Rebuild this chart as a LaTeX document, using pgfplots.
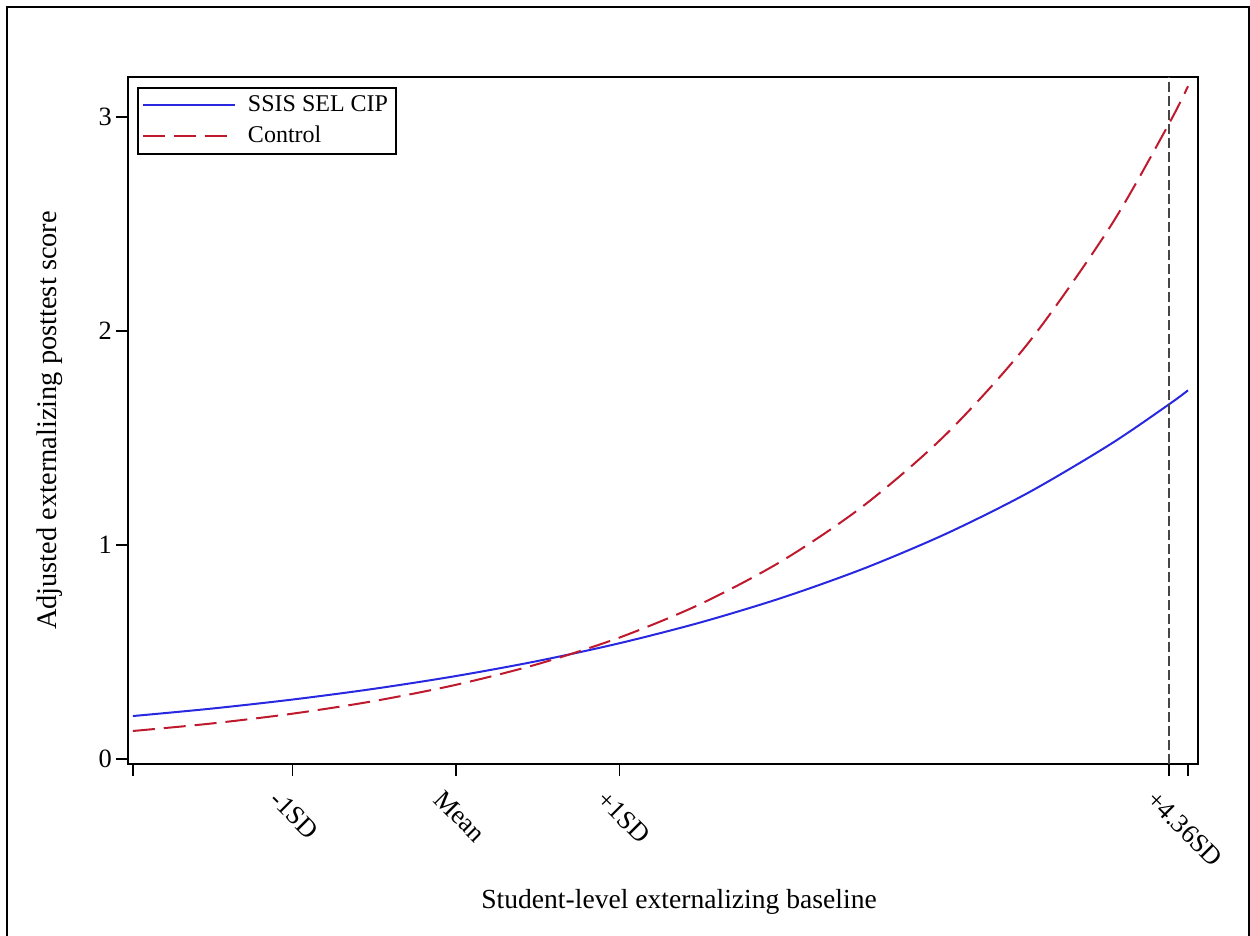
\documentclass[border=0pt]{standalone}
\usepackage{pgfplots}
\pgfplotsset{compat=1.18}
\usepackage{fontspec}
\setmainfont{Liberation Serif}
\definecolor{sasblue}{RGB}{40,40,225}
\definecolor{sasred}{RGB}{190,25,45}
\definecolor{refgrey}{RGB}{70,70,70}
\begin{document}
\begin{tikzpicture}
\useasboundingbox (0pt,0pt) rectangle (625pt,468pt);
\draw[line width=0.6pt] (3.5pt,-2pt) -- (3.5pt,464.5pt) -- (624.5pt,464.5pt) -- (624.5pt,-2pt);
\begin{axis}[
  at={(64pt,86pt)}, anchor=south west,
  scale only axis, width=535pt, height=343.5pt,
  xmin=-2.006, xmax=4.538, ymin=-0.023, ymax=3.187,
  font=\fontsize{13.2}{15}\selectfont,
  /pgf/number format/assume math mode=true,
  axis line style={line width=0.9pt},
  tick style={black, line width=0.9pt},
  tick align=outside, major tick length=6pt,
  xtick pos=bottom, ytick pos=left,
  ytick={0,1,2,3},
  yticklabel style={xshift=1.5pt},
  xtick={-1.976,-1,0,1,4.36,4.477},
  xticklabels={,-1SD,Mean,+1SD,+4.36SD,},
  xticklabel style={rotate=-45, anchor=north west, xshift=-3pt, yshift=-5pt},
  xlabel={Student-level externalizing baseline},
  ylabel={Adjusted externalizing posttest score},
  xlabel style={at={(axis description cs:0.515,-0.2009)}, anchor=center, font=\fontsize{13.8}{16}\selectfont},
  ylabel style={at={(axis description cs:-0.073,0.5)}, anchor=center, font=\fontsize{14.2}{16}\selectfont},
  legend style={at={(axis description cs:0.0084,0.9854)}, anchor=north west,
    draw=black, line width=1pt, font=\fontsize{12}{14}\selectfont,
    row sep=1.5pt, inner sep=2pt, cells={anchor=west},
    /tikz/every odd column/.style={}, },
  legend image code/.code={\draw[#1] (0pt,0pt) -- (46pt,0pt);},
  legend cell align=left,
  every legend entry/.append style={xshift=0pt},
  legend image post style={},
  clip=true,
]
\addplot[sasblue, line width=1pt, smooth] coordinates {
(-1.976,0.201) (-1.5,0.2354) (-1,0.2781) (-0.5,0.3285) (0,0.388) (0.5,0.4583)
(1,0.5413) (1.5,0.6394) (2,0.7552) (2.5,0.8920) (3,1.0537) (3.5,1.2445)
(4,1.4700) (4.36,1.657) (4.477,1.723)};
\addlegendentry{\hspace{4pt}SSIS SEL CIP}
\addplot[sasred, line width=1pt, smooth, dash pattern=on 11pt off 4.5pt] coordinates {
(-1.976,0.1312) (-1.5,0.1658) (-1,0.2121) (-0.5,0.2713) (0,0.347) (0.5,0.4438)
(1,0.5677) (1.5,0.7262) (2,0.9288) (2.5,1.1881) (3,1.5197) (3.5,1.9439)
(4,2.4863) (4.36,2.968) (4.477,3.144)};
\addlegendentry{\hspace{4pt}Control}
\addplot[refgrey, line width=1pt, dash pattern=on 5pt off 2pt, forget plot] coordinates {(4.36,-0.023) (4.36,3.187)};
\end{axis}
\end{tikzpicture}
\end{document}
